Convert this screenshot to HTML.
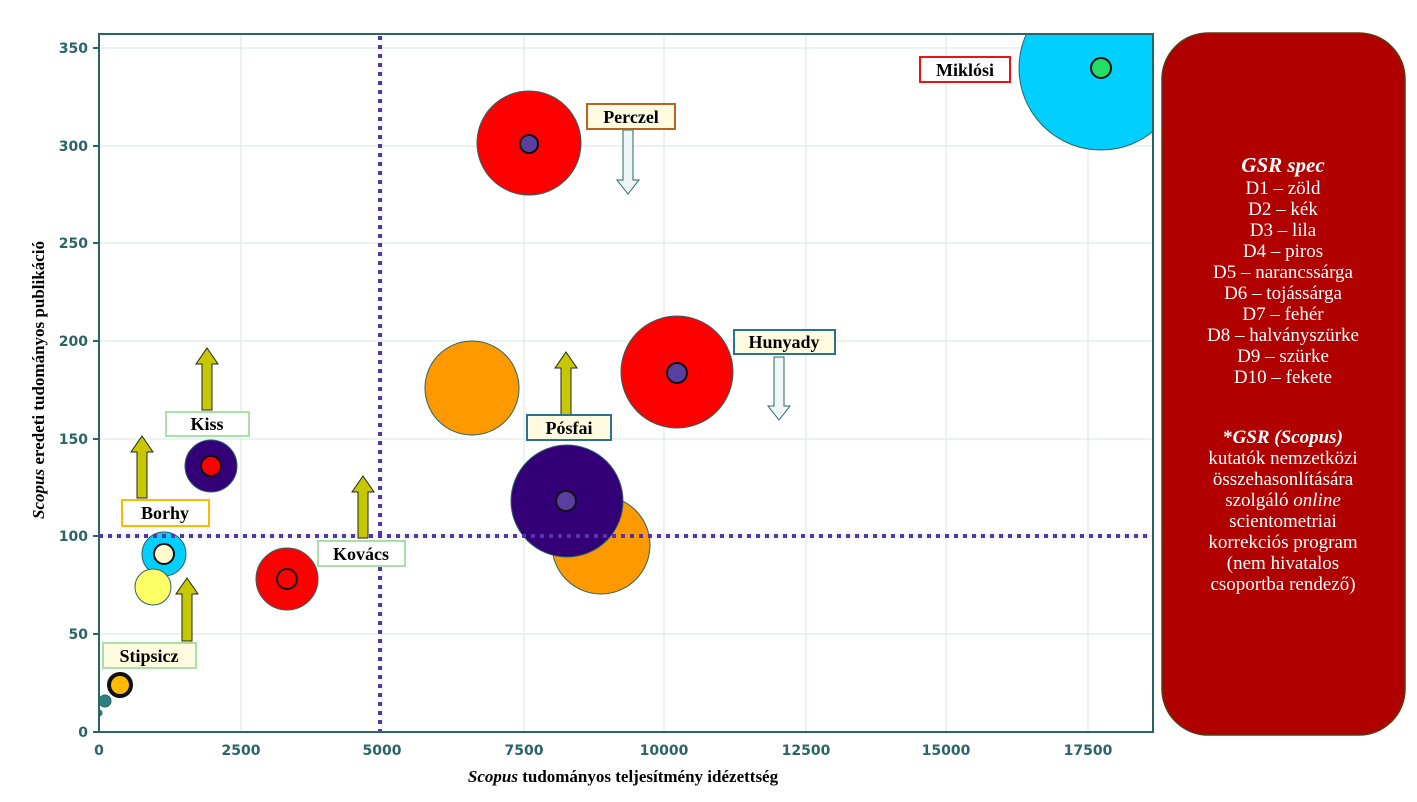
<!DOCTYPE html>
<html><head><meta charset="utf-8"><style>
body{margin:0;background:#fff;width:1417px;height:797px;overflow:hidden;font-family:"Liberation Serif",serif}
.tk{font-family:"DejaVu Sans",sans-serif;font-size:14px;fill:#2a6464;font-weight:bold}
.lb{font-family:"Liberation Serif",serif;font-size:18px;font-weight:bold;fill:#000}
</style></head><body>
<svg width="1417" height="797" xmlns="http://www.w3.org/2000/svg">
<defs><clipPath id="c"><rect x="99" y="34" width="1054" height="698"/></clipPath></defs>
<g stroke="#e3eeee" stroke-width="1.5">
<line x1="241" y1="34" x2="241" y2="732"/><line x1="382" y1="34" x2="382" y2="732"/><line x1="524" y1="34" x2="524" y2="732"/><line x1="664" y1="34" x2="664" y2="732"/><line x1="806" y1="34" x2="806" y2="732"/><line x1="946" y1="34" x2="946" y2="732"/><line x1="1088" y1="34" x2="1088" y2="732"/>
<line x1="99" y1="634" x2="1153" y2="634"/><line x1="99" y1="536" x2="1153" y2="536"/><line x1="99" y1="439" x2="1153" y2="439"/><line x1="99" y1="341" x2="1153" y2="341"/><line x1="99" y1="243" x2="1153" y2="243"/><line x1="99" y1="146" x2="1153" y2="146"/><line x1="99" y1="48" x2="1153" y2="48"/>
</g>
<g clip-path="url(#c)" stroke="#2a6464" stroke-width="1">
<circle cx="1101" cy="68" r="82" fill="#00cfff"/>
<circle cx="529" cy="143" r="52" fill="#ff0000"/>
<circle cx="472" cy="388" r="47" fill="#ff9900"/>
<circle cx="677" cy="372" r="56" fill="#ff0000"/>
<circle cx="601" cy="545" r="49" fill="#ff9900"/>
<circle cx="567" cy="501" r="56" fill="#330077"/>
<circle cx="211" cy="466" r="26" fill="#330077"/>
<circle cx="164" cy="554" r="22" fill="#00cfff"/>
<circle cx="153" cy="587" r="18" fill="#ffff66"/>
<circle cx="287" cy="579" r="31" fill="#ff0000"/>
<circle cx="105" cy="701" r="6" fill="#2a8080"/>
<circle cx="99" cy="713" r="3" fill="#2a8080"/>
</g>
<g stroke="#111" stroke-width="2">
<circle cx="1101" cy="68" r="10" fill="#22dd66"/>
<circle cx="529" cy="144" r="9" fill="#5a3fa0"/>
<circle cx="677" cy="373" r="10" fill="#5a3fa0"/>
<circle cx="566" cy="501" r="10" fill="#5a3fa0"/>
<circle cx="211" cy="466" r="10" fill="#ff0000"/>
<circle cx="164" cy="554" r="10" fill="#fffad0"/>
<circle cx="287" cy="579" r="10" fill="none"/>
<circle cx="120" cy="685" r="11" fill="#ffbb00" stroke-width="4"/>
</g>
<g stroke="#5533aa" stroke-width="4" stroke-dasharray="4,5">
<line x1="380" y1="36" x2="380" y2="732"/><line x1="99" y1="536" x2="1153" y2="536"/>
</g>
<rect x="99" y="34" width="1054" height="698" fill="none" stroke="#2a6464" stroke-width="2"/>
<g class="tk" text-anchor="end">
<text x="88" y="737">0</text><text x="88" y="639">50</text><text x="88" y="541">100</text><text x="88" y="444">150</text><text x="88" y="346">200</text><text x="88" y="248">250</text><text x="88" y="151">300</text><text x="88" y="53">350</text>
</g>
<g stroke="#2a6464" stroke-width="2"><line x1="93" y1="732" x2="99" y2="732"/><line x1="93" y1="634" x2="99" y2="634"/><line x1="93" y1="536" x2="99" y2="536"/><line x1="93" y1="439" x2="99" y2="439"/><line x1="93" y1="341" x2="99" y2="341"/><line x1="93" y1="243" x2="99" y2="243"/><line x1="93" y1="146" x2="99" y2="146"/><line x1="93" y1="48" x2="99" y2="48"/></g>
<g class="tk" text-anchor="middle">
<text x="99" y="755">0</text><text x="241" y="755">2500</text><text x="382" y="755">5000</text><text x="524" y="755">7500</text><text x="664" y="755">10000</text><text x="806" y="755">12500</text><text x="946" y="755">15000</text><text x="1088" y="755">17500</text>
</g>
<text x="623" y="782" text-anchor="middle" font-size="17" font-weight="bold"><tspan font-style="italic">Scopus</tspan> tudományos teljesítmény idézettség</text>
<text transform="translate(44,380) rotate(-90)" text-anchor="middle" font-size="17" font-weight="bold"><tspan font-style="italic">Scopus</tspan> eredeti tudományos publikáció</text>
<g stroke="#222" stroke-width="1" fill="#c8c800">
<polygon points="202,410 212,410 212,364 218,364 207,348 196,364 202,364"/>
<polygon points="137,498 147,498 147,452 153,452 142,436 131,452 137,452"/>
<polygon points="182,641 192,641 192,594 198,594 187,578 176,594 182,594"/>
<polygon points="358,538 368,538 368,492 374,492 363,476 352,492 358,492"/>
<polygon points="561,415 571,415 571,368 577,368 566,352 555,368 561,368"/>
</g>
<g stroke="#2a6464" stroke-width="1" fill="#eef6f8">
<polygon points="623,130 633,130 633,180 639,180 628,194 617,180 623,180"/>
<polygon points="774,357 784,357 784,406 790,406 779,420 768,406 774,406"/>
</g>
<g stroke-width="2">
<rect x="920" y="57" width="90" height="25" fill="#fff" stroke="#ee1111"/>
<rect x="587" y="104" width="88" height="25" fill="#fffbe0" stroke="#b5651d"/>
<rect x="734" y="330" width="101" height="24" fill="#fffbe0" stroke="#2a7090"/>
<rect x="527" y="415" width="84" height="25" fill="#fffbe0" stroke="#2a7090"/>
<rect x="166" y="412" width="83" height="24" fill="#fff" stroke="#a8e0a8"/>
<rect x="122" y="500" width="87" height="26" fill="#fff" stroke="#ffb800"/>
<rect x="318" y="541" width="87" height="25" fill="#fff" stroke="#a8e0a8"/>
<rect x="103" y="643" width="93" height="25" fill="#fffbe0" stroke="#a8e0a8"/>
</g>
<g class="lb" text-anchor="middle">
<text x="965" y="76">Miklósi</text><text x="631" y="123">Perczel</text><text x="784" y="348">Hunyady</text><text x="569" y="434">Pósfai</text><text x="207" y="430">Kiss</text><text x="165" y="519">Borhy</text><text x="361" y="560">Kovács</text><text x="149" y="662">Stipsicz</text>
</g>
<rect x="1162" y="33" width="243" height="702" rx="46" fill="#b00000" stroke="#5a3a10" stroke-width="1.5"/>
<g fill="#fff" font-size="19" text-anchor="middle" font-family="Liberation Serif,serif">
<text x="1283" y="172" font-weight="bold" font-style="italic" font-size="21">GSR spec</text>
<text x="1283" y="194">D1 – zöld</text><text x="1283" y="215">D2 – kék</text><text x="1283" y="236">D3 – lila</text><text x="1283" y="257">D4 – piros</text><text x="1283" y="278">D5 – narancssárga</text><text x="1283" y="299">D6 – tojássárga</text><text x="1283" y="320">D7 – fehér</text><text x="1283" y="341">D8 – halványszürke</text><text x="1283" y="362">D9 – szürke</text><text x="1283" y="383">D10 – fekete</text>
<text x="1283" y="443" font-weight="bold">*<tspan font-style="italic">GSR (Scopus)</tspan></text>
<text x="1283" y="464">kutatók nemzetközi</text><text x="1283" y="485">összehasonlítására</text><text x="1283" y="506">szolgáló <tspan font-style="italic">online</tspan></text><text x="1283" y="527">scientometriai</text><text x="1283" y="548">korrekciós program</text><text x="1283" y="569">(nem hivatalos</text><text x="1283" y="590">csoportba rendező)</text>
</g>
</svg>
</body></html>
